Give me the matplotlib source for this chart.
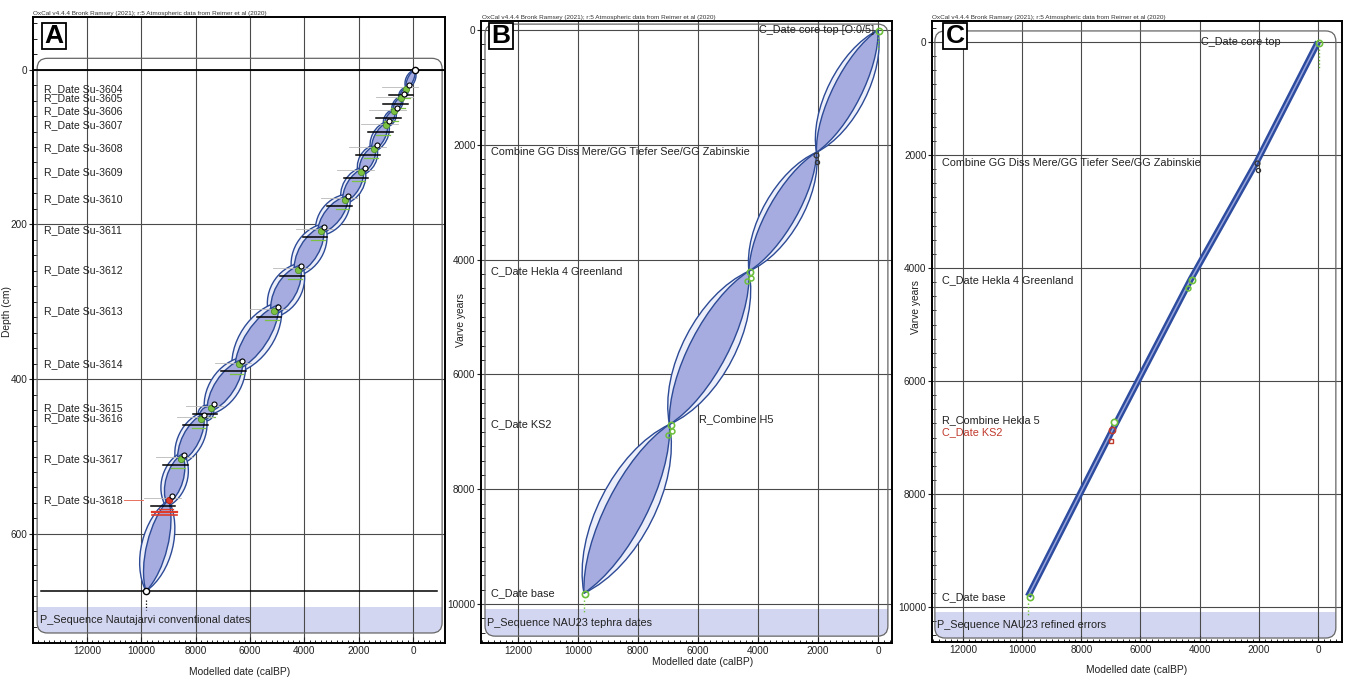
import numpy as np
import matplotlib
matplotlib.use("Agg")
import matplotlib.pyplot as plt
from matplotlib.path import Path
from matplotlib.patches import PathPatch, FancyBboxPatch, Rectangle
from matplotlib.ticker import MultipleLocator, FixedLocator

plt.rcParams['font.family'] = ['Liberation Sans', 'DejaVu Sans']

# ---------------- data ----------------
CAPTION = "OxCal v4.4.4 Bronk Ramsey (2021); r:5 Atmospheric data from Reimer et al (2020)"
X_TICKS = [12000, 10000, 8000, 6000, 4000, 2000, 0]
X_LABEL = "Modelled date (calBP)"

# Panel A : Nautajarvi conventional dates
A_samples = ['Su-3604', 'Su-3605', 'Su-3606', 'Su-3607', 'Su-3608', 'Su-3609', 'Su-3610',
             'Su-3611', 'Su-3612', 'Su-3613', 'Su-3614', 'Su-3615', 'Su-3616', 'Su-3617', 'Su-3618']
A_depth = [25, 37, 54, 72, 102, 132, 168, 208, 259, 312, 381, 437, 451, 503, 556]
A_date = [250, 450, 700, 1000, 1450, 1900, 2500, 3400, 4250, 5100, 6400, 7450, 7800, 8550, 9000]
A_top = (-70, 0)
A_base = (9830, 674)
A_outer = [170, 150, 170, 200, 280, 310, 360, 450, 520, 560, 600, 540, 280, 460, 460, 570]
A_inner = [110, 100, 110, 130, 190, 210, 240, 300, 350, 380, 400, 360, 190, 310, 310, 380]
A_outlier = 'Su-3618'
A_yticks = [0, 200, 400, 600]
A_seq = "P_Sequence Nautajarvi conventional dates"

# Panel B : NAU23 tephra dates
B_labels = ['C_Date core top [O:0/5]', 'Combine GG Diss Mere/GG Tiefer See/GG Zabinskie',
            'C_Date Hekla 4 Greenland', 'C_Date KS2', 'C_Date base']
B_date = [0, 2050, 4300, 6950, 9800]
B_varve = [0, 2130, 4200, 6870, 9810]
B_outer = [640, 640, 860, 920]
B_inner = [470, 470, 630, 670]
B_extra_label = ('R_Combine H5', 5950, 6770)
B_seq = "P_Sequence NAU23 tephra dates"

# Panel C : NAU23 refined errors
C_labels = ['C_Date core top', 'Combine GG Diss Mere/GG Tiefer See/GG Zabinskie',
            'C_Date Hekla 4 Greenland', 'R_Combine Hekla 5', 'C_Date KS2', 'C_Date base']
C_label_varve = [0, 2140, 4210, 6690, 6900, 9820]
C_label_color = ['#222222', '#222222', '#222222', '#222222', '#c0392b', '#222222']
C_date = [0, 2050, 4300, 6950, 9800]
C_varve = [0, 2100, 4200, 6870, 9810]
C_seq = "P_Sequence NAU23 refined errors"
V_TICKS = [0, 2000, 4000, 6000, 8000, 10000]

# ---------------- style ----------------
W, H = 1346, 677
ENV_EDGE = '#2c4a96'
ENV_OUT = '#eceefa'
ENV_IN = '#a6acdf'
BAND = '#d3d6f1'
GRID = '#4a4a4a'
GREEN = '#7cc242'
GREEN_D = '#4f8f2a'

fig = plt.figure(figsize=(W / 100, H / 100), dpi=100)
fig.patch.set_facecolor('white')


def px_axes(l, t, r, b):
    return fig.add_axes([l / W, 1 - b / H, (r - l) / W, (b - t) / H])


def style_axes(ax, yt, yminor, ylabel, ylab_xy, xlab_xy):
    ax.xaxis.set_major_locator(FixedLocator(X_TICKS))
    ax.xaxis.set_minor_locator(MultipleLocator(200))
    ax.set_xticklabels([str(v) for v in X_TICKS])
    ax.yaxis.set_major_locator(FixedLocator(yt))
    ax.yaxis.set_minor_locator(MultipleLocator(yminor))
    ax.tick_params(axis='x', which='major', direction='in', length=4, width=0.8,
                   labelsize=7.2, pad=2, colors='#222222')
    ax.tick_params(axis='x', which='minor', direction='in', length=2, width=0.6)
    ax.tick_params(axis='y', which='major', direction='out', length=3, width=0.8,
                   labelsize=7.2, pad=1, colors='#222222')
    ax.tick_params(axis='y', which='minor', direction='in', length=3, width=0.6)
    for s in ax.spines.values():
        s.set_linewidth(1.4)
        s.set_color('black')
    ax.set_xlabel(X_LABEL, fontsize=7.4, color='#222222')
    ax.set_ylabel(ylabel, fontsize=7.4, color='#222222')
    ax.yaxis.set_label_coords(*ylab_xy)
    ax.xaxis.set_label_coords(*xlab_xy)
    for v in X_TICKS:
        ax.axvline(v, color=GRID, lw=0.8, zorder=1)
    for v in yt:
        ax.axhline(v, color=GRID, lw=0.8, zorder=1)


def frame_box(ax, x0, y0, x1, y1, band_top, text):
    box = FancyBboxPatch((x0, y0), x1 - x0, y1 - y0, boxstyle='round,pad=0,rounding_size=0.025',
                         transform=ax.transAxes, fc='none', ec='#666666', lw=0.9, zorder=2,
                         mutation_aspect=0.66)
    ax.add_patch(box)
    band = Rectangle((x0, y0), x1 - x0, band_top - y0, transform=ax.transAxes,
                     fc=BAND, ec='none', zorder=0.5)
    ax.add_patch(band)
    band.set_clip_path(box)
    ax.text(x0 + 0.006, (y0 + band_top) / 2, text, transform=ax.transAxes, fontsize=7.8,
            va='center', ha='left', color='#222222', zorder=6)


def lens(ax, p0, p1, w, fc, z, ext=0.0):
    T = ax.transData
    a, b = T.transform([p0, p1])
    d = b - a
    a = a - ext * d
    b = b + ext * d
    d = b - a
    L = np.hypot(*d)
    n = np.array([-d[1], d[0]]) / L
    sx = abs(T.transform((1000, 0))[0] - T.transform((0, 0))[0]) / 1000.0
    k = w * sx / 0.75
    verts = [a, a + 0.25 * d + k * n, a + 0.75 * d + k * n, b,
             a + 0.75 * d - k * n, a + 0.25 * d - k * n, a, a]
    codes = [Path.MOVETO, Path.CURVE4, Path.CURVE4, Path.CURVE4,
             Path.CURVE4, Path.CURVE4, Path.CURVE4, Path.CLOSEPOLY]
    verts = T.inverted().transform(np.array(verts))
    ax.add_patch(PathPatch(Path(verts, codes), fc=fc, ec=ENV_EDGE, lw=1.0, zorder=z))


def letter(ax, ch, x, y):
    ax.add_patch(Rectangle((x, y), 24 / W, 26 / H, transform=fig.transFigure, fc='white',
                           ec='black', lw=1.3, zorder=20, clip_on=False))
    ax.text(x + 12 / W, y + 13 / H, ch, transform=fig.transFigure, fontsize=19,
            fontweight='bold', ha='center', va='center', zorder=21)


# ================= Panel A =================
axA = px_axes(33, 17, 445, 643)
axA.set_xlim(13990, -1180)
axA.set_ylim(741, -68)
style_axes(axA, A_yticks, 20, "Depth (cm)", (-0.051, 0.53), (0.502, -0.038))
frame_box(axA, 0.01, 0.016, 0.993, 0.934, 0.0575, A_seq)
axA.axhline(0, color='black', lw=1.3, zorder=2)
axA.plot([13700, -900], [A_base[1]] * 2, color='black', lw=1.1, zorder=2)

anchors = [A_top] + list(zip(A_date, A_depth)) + [A_base]
for i in range(len(anchors) - 1):
    e = 0.0 if i in (0, len(anchors) - 2) else 0.18
    lens(axA, anchors[i], anchors[i + 1], A_outer[i], ENV_OUT, 3, ext=e)
for i in range(len(anchors) - 1):
    e = 0.0 if i in (0, len(anchors) - 2) else 0.12
    lens(axA, anchors[i], anchors[i + 1], A_inner[i], ENV_IN, 3.1, ext=e)

for name, dp, dt in zip(A_samples, A_depth, A_date):
    out = (name == A_outlier)
    col = '#e03a2a' if out else GREEN
    ecol = '#b02010' if out else GREEN_D
    axA.plot([dt + 900, dt - 450], [dp - 2, dp - 2], color='#b8b8b8', lw=0.6, zorder=4)
    axA.plot([dt + 650, dt - 250], [dp + 8, dp + 8], color='black', lw=1.1, zorder=4)
    axA.plot([dt + 350, dt - 150], [dp + 12, dp + 12], color=col, lw=0.9, zorder=4)
    axA.plot(dt, dp, 'o', ms=4.5, mfc=col, mec=ecol, mew=0.6, zorder=5)
    axA.plot(dt - 120, dp - 5, 'o', ms=3.6, mfc='white', mec='black', mew=0.8, zorder=5)
    axA.text(13580, dp, "R_Date " + name, fontsize=7.6, va='center', ha='left',
             color='#222222', zorder=6)
    if out:
        axA.plot([10650, 9950], [dp, dp], color='#e8705e', lw=0.7, zorder=4)
        axA.plot([dt + 600, dt - 300], [dp + 16, dp + 16], color='#e03a2a', lw=1.6, zorder=4)
        axA.plot([dt + 600, dt - 300], [dp + 20, dp + 20], color='#e03a2a', lw=1.2, zorder=4)
for p in (A_top, A_base):
    axA.plot(*p, 'o', ms=4.5, mfc='white', mec='black', mew=1.0, zorder=6)
axA.plot([A_base[0], A_base[0]], [A_base[1] + 12, A_base[1] + 24], color='black', lw=0.9,
         ls=(0, (1, 1.5)), zorder=6)
letter(axA, 'A', 42 / W, 1 - 49 / H)
fig.text(33 / W, 1 - 14 / H, CAPTION, fontsize=4.6, va='center', ha='left', color='#333333')

# ================= Panel B =================
axB = px_axes(481, 21, 892, 643)
axB.set_xlim(13233, -467)
axB.set_ylim(10678, -157)
style_axes(axB, V_TICKS, 250, "Varve years", (-0.0365, 0.52), (0.54, -0.0225))
frame_box(axB, 0.0097, 0.011, 0.99, 0.995, 0.0547, B_seq)
ptsB = list(zip(B_date, B_varve))
for i in range(len(ptsB) - 1):
    lens(axB, ptsB[i], ptsB[i + 1], B_outer[i], ENV_OUT, 3)
for i in range(len(ptsB) - 1):
    lens(axB, ptsB[i], ptsB[i + 1], B_inner[i], ENV_IN, 3.1)
for j, (dt, vv) in enumerate(ptsB):
    if j == 1:
        axB.plot(dt, vv + 40, 'o', ms=3.5, mfc='none', mec='#333333', mew=0.9, zorder=6)
        axB.plot(dt - 20, vv + 170, 'o', ms=3, mfc='none', mec='#333333', mew=0.9, zorder=6)
    else:
        axB.plot(dt - 50, vv + 10, 'o', ms=4.5, mfc='none', mec='#6cbf3a', mew=1.2, zorder=6)
    if j in (2, 3):
        axB.plot(dt + 60, vv + 180, 'o', ms=3.5, mfc='none', mec='#6cbf3a', mew=1.1, zorder=6)
        axB.plot(dt - 80, vv + 120, 'o', ms=3.5, mfc='white', mec='#6cbf3a', mew=1.1, zorder=6)
axB.plot([B_date[-1]] * 2, [B_varve[-1] + 120, B_varve[-1] + 350], color='#6cbf3a', lw=1,
         ls=(0, (1, 1.5)), zorder=6)
axB.plot([B_date[0]] * 2, [B_varve[0] + 120, B_varve[0] + 330], color='#6cbf3a', lw=1,
         ls=(0, (1, 1.5)), zorder=6)
for j, (lab, vv) in enumerate(zip(B_labels, B_varve)):
    if j == 0:
        axB.text(130, vv, lab, fontsize=7.8, ha='right', va='center', color='#222222', zorder=7)
    else:
        axB.text(12900, vv, lab, fontsize=7.8, ha='left', va='center', color='#222222', zorder=7)
axB.text(B_extra_label[1], B_extra_label[2], B_extra_label[0], fontsize=7.8, ha='left',
         va='center', color='#222222', zorder=7)
letter(axB, 'B', 489 / W, 1 - 49 / H)
fig.text(482 / W, 1 - 17 / H, CAPTION, fontsize=4.6, va='center', ha='left', color='#333333')

# ================= Panel C =================
axC = px_axes(932, 21, 1342, 642)
axC.set_xlim(13047, -811)
axC.set_ylim(10619, -372)
style_axes(axC, V_TICKS, 250, "Varve years", (-0.027, 0.54), (0.5, -0.037))
frame_box(axC, 0.007, 0.0064, 0.985, 0.984, 0.048, C_seq)
axC.plot(C_date, C_varve, color='#2d4c9f', lw=4.6, zorder=3, solid_capstyle='butt')
axC.plot(C_date, C_varve, color='#98a4dc', lw=1.1, zorder=3.1, solid_capstyle='butt')
for j, (dt, vv) in enumerate(zip(C_date, C_varve)):
    if j == 1:
        axC.plot(dt, vv + 40, 'o', ms=3.5, mfc='none', mec='#333333', mew=0.9, zorder=6)
        axC.plot(dt - 30, vv + 170, 'o', ms=3, mfc='none', mec='#333333', mew=0.9, zorder=6)
    elif j == 3:
        axC.plot(dt, vv, 'o', ms=4.5, mfc='none', mec='#c0392b', mew=1.1, zorder=6)
        axC.plot(dt - 60, vv - 150, 'o', ms=4.5, mfc='white', mec='#6cbf3a', mew=1.2, zorder=6)
        axC.plot(dt + 60, vv + 200, 's', ms=3.5, mfc='none', mec='#c0392b', mew=1.0, zorder=6)
    else:
        axC.plot(dt - 50, vv + 10, 'o', ms=4.5, mfc='none', mec='#6cbf3a', mew=1.2, zorder=6)
    if j == 2:
        axC.plot(dt + 80, vv + 150, 'o', ms=3.5, mfc='none', mec='#6cbf3a', mew=1.1, zorder=6)
axC.plot([C_date[-1]] * 2, [C_varve[-1] + 120, C_varve[-1] + 350], color='#6cbf3a', lw=1,
         ls=(0, (1, 1.5)), zorder=6)
axC.plot([C_date[0] - 50] * 2, [C_varve[0] + 120, C_varve[0] + 500], color='#6cbf3a', lw=1,
         ls=(0, (1, 1.5)), zorder=6)
for j, (lab, vv, col) in enumerate(zip(C_labels, C_label_varve, C_label_color)):
    if j == 0:
        axC.text(3950, vv, lab, fontsize=7.8, ha='left', va='center', color=col, zorder=7)
    else:
        axC.text(12710, vv, lab, fontsize=7.8, ha='left', va='center', color=col, zorder=7)
letter(axC, 'C', 943 / W, 1 - 49 / H)
fig.text(932 / W, 1 - 17 / H, CAPTION, fontsize=4.6, va='center', ha='left', color='#333333')

fig.savefig("out.png", dpi=100)
